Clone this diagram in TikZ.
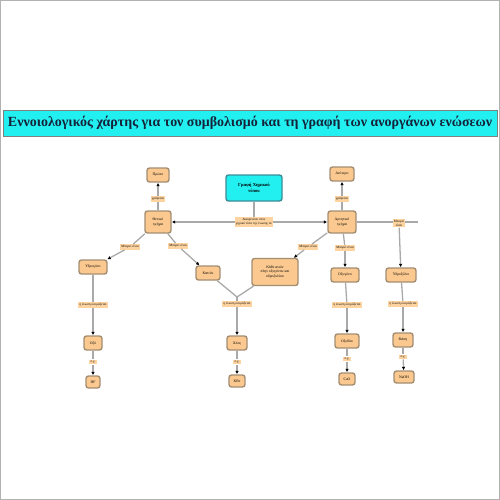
\documentclass[tikz,border=0pt]{standalone}
\usepackage{fontspec}
\setmainfont{Liberation Serif}
\usetikzlibrary{arrows.meta}
\definecolor{conceptfill}{HTML}{FBC98F}
\definecolor{conceptedge}{HTML}{A38E72}
\definecolor{phrasefill}{HTML}{FDD3A0}
\definecolor{linkgray}{HTML}{A9A9A9}
\definecolor{titletext}{HTML}{14233A}
\definecolor{mainfill}{HTML}{22F0F0}
\definecolor{mainedge}{HTML}{3C8C98}
\begin{document}
\begin{tikzpicture}[x=1pt, y=-1pt,
    concept/.style={draw=conceptedge, line width=1.4pt, fill=conceptfill,
      rounded corners=2.5pt, align=center, inner sep=2pt,
      font=\fontsize{3.8}{4.4}\selectfont, minimum height=14pt},
    phrase/.style={fill=phrasefill, align=center, inner sep=1.2pt,
      font=\fontsize{3.3}{3.9}\selectfont},
    link/.style={draw=linkgray, line width=1.3pt},
    tolink/.style={link, -{Latex[length=3.5pt, width=3.5pt, black]}}
  ]
    \useasboundingbox (0,0) rectangle (500,500);
    \draw[gray!60, line width=0.6pt] (0.5,0.5) rectangle (499.5,499.5);
    % title
    \node[draw=gray, line width=0.8pt, fill=mainfill, minimum width=494pt,
      minimum height=26pt, inner sep=0pt, text=titletext] (title) at (250,123)
      {\resizebox{484pt}{!}{\bfseries Εννοιολογικός χάρτης για τον συμβολισμό και τη γραφή των ανοργάνων ενώσεων}};
    % main concept and its two parts
    \node[concept, draw=mainedge, fill=mainfill, minimum width=56pt, minimum height=26pt,
      font=\fontsize{4.6}{5.6}\selectfont\bfseries] (main) at (254,188) {Γραφή Χημικού\\τύπου};
    \node[phrase] (split) at (254,222) {Διακρίνεται στον\\χημικό τύπο της ένωσης σε};
    \node[concept, minimum width=26pt, minimum height=22pt] (pos) at (158,222) {Θετικό\\τμήμα};
    \node[concept, minimum width=28pt, minimum height=22pt] (neg) at (342,222) {Αρνητικό\\τμήμα};
    % order of writing
    \node[concept, minimum width=22pt] (first) at (158,175) {Πρώτο};
    \node[phrase] (wrfirst) at (158,199) {γράφεται};
    \node[concept, minimum width=24pt] (second) at (342,174) {Δεύτερο};
    \node[phrase] (wrsecond) at (342,199) {γράφεται};
    % kinds of parts
    \node[phrase] (canH) at (130,247) {Μπορεί είναι};
    \node[phrase] (canCat) at (178,246) {Μπορεί είναι};
    \node[phrase] (canAn) at (308,247) {Μπορεί είναι};
    \node[phrase] (canO) at (345,248) {Μπορεί είναι};
    \node[phrase] (canOH) at (399,223) {Μπορεί\\είναι};
    \coordinate (negend) at (418,222);
    \node[concept, minimum width=28pt] (hydro) at (93,267) {Υδρογόνο};
    \node[concept, minimum width=24pt] (cation) at (208,273) {Κατιόν};
    \node[concept, minimum width=46pt, minimum height=27pt] (anion) at (275,272)
      {Κάθε ανιόν\\πλην οξυγόνου και\\υδροξυλίου};
    \node[concept, minimum width=28pt] (oxy) at (345,275) {Οξυγόνο};
    \node[concept, minimum width=30pt] (hydroxyl) at (401,275) {Υδροξύλιο};
    % names of compounds
    \node[phrase] (nameA) at (93,305) {η ένωση ονομάζεται};
    \coordinate (meet) at (237,297);
    \node[phrase] (nameS) at (237,304) {η ένωση ονομάζεται};
    \node[phrase] (nameO) at (347,305) {η ένωση ονομάζεται};
    \node[phrase] (nameB) at (403,304) {η ένωση ονομάζεται};
    \node[concept, minimum width=18pt] (acid) at (93,343) {Οξύ};
    \node[concept, minimum width=20pt] (salt) at (237,343) {Άλας};
    \node[concept, minimum width=24pt] (oxide) at (347,341) {Οξείδιο};
    \node[concept, minimum width=20pt] (base) at (403,340) {Βάση};
    \node[phrase] (egA) at (93,362) {π.χ.};
    \node[phrase] (egS) at (237,362) {π.χ.};
    \node[phrase] (egO) at (347,359) {π.χ.};
    \node[phrase] (egB) at (403,357) {π.χ.};
    \node[concept, minimum width=14pt, minimum height=12pt] (hf) at (93,382) {HF};
    \node[concept, minimum width=16pt, minimum height=12pt] (kbr) at (237,381) {KBr};
    \node[concept, minimum width=16pt, minimum height=12pt] (cao) at (347,379) {CaO};
    \node[concept, minimum width=20pt, minimum height=12pt] (naoh) at (404,377) {NaOH};
    % connectors
    \draw[link] (main) -- (split);
    \draw[tolink] (split) -- (pos);
    \draw[tolink] (split) -- (neg);
    \draw[link] (pos) -- (wrfirst);
    \draw[tolink] (wrfirst) -- (first);
    \draw[link] (neg) -- (wrsecond);
    \draw[tolink] (wrsecond) -- (second);
    \draw[link] (pos) -- (canH);
    \draw[tolink] (canH) -- (hydro);
    \draw[link] (pos) -- (canCat);
    \draw[tolink] (canCat) -- (cation);
    \draw[link] (neg) -- (canAn);
    \draw[tolink] (canAn) -- (anion);
    \draw[link] (neg) -- (canO);
    \draw[tolink] (canO) -- (oxy);
    \draw[link] (neg) -- (negend);
    \draw[tolink] (canOH) -- (hydroxyl);
    \draw[link] (hydro) -- (nameA);
    \draw[tolink] (nameA) -- (acid);
    \draw[link] (cation) -- (meet);
    \draw[link] (anion) -- (meet);
    \draw[link] (meet) -- (nameS);
    \draw[tolink] (nameS) -- (salt);
    \draw[link] (oxy) -- (nameO);
    \draw[tolink] (nameO) -- (oxide);
    \draw[link] (hydroxyl) -- (nameB);
    \draw[tolink] (nameB) -- (base);
    \draw[link] (acid) -- (egA);
    \draw[tolink] (egA) -- (hf);
    \draw[link] (salt) -- (egS);
    \draw[tolink] (egS) -- (kbr);
    \draw[link] (oxide) -- (egO);
    \draw[tolink] (egO) -- (cao);
    \draw[link] (base) -- (egB);
    \draw[tolink] (egB) -- (naoh);
    % redraw the phrase on the long line
    \node[phrase] at (canOH) {Μπορεί\\είναι};
  \end{tikzpicture}
\end{document}
